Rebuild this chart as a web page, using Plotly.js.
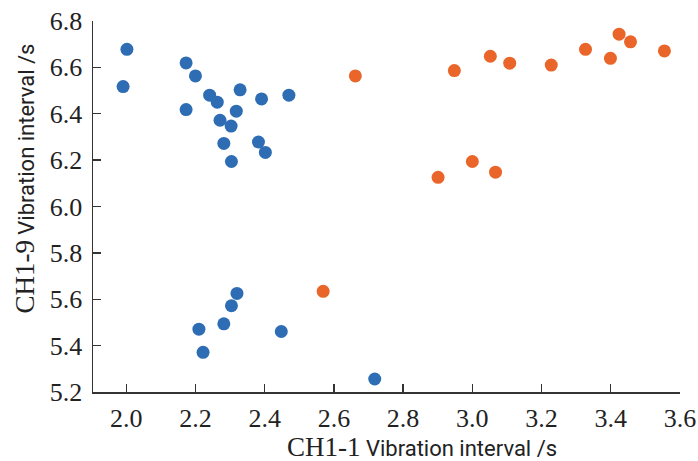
<!DOCTYPE html>
<html>
<head>
<meta charset="utf-8">
<script src="https://cdn.plot.ly/plotly-3.0.1.min.js"></script>
<style>html,body{margin:0;padding:0;background:#fff;}#chart{width:698px;height:461px;}</style>
</head>
<body>
<div id="chart"></div>
<script>
// Group 1 (blue)
const blueX = [2.002, 1.991, 2.173, 2.200, 2.173, 2.241, 2.263, 2.329, 2.318, 2.271, 2.303, 2.391, 2.470, 2.282, 2.382, 2.402, 2.304, 2.320, 2.304, 2.210, 2.282, 2.222, 2.448, 2.718];
const blueY = [6.678, 6.517, 6.619, 6.563, 6.418, 6.480, 6.450, 6.503, 6.411, 6.372, 6.347, 6.464, 6.480, 6.272, 6.278, 6.233, 6.194, 5.625, 5.572, 5.471, 5.494, 5.371, 5.461, 5.256];
// Group 2 (orange)
const orangeX = [2.662, 2.569, 2.948, 3.052, 3.108, 3.228, 3.327, 3.399, 3.424, 3.457, 3.555, 2.901, 3.000, 3.067];
const orangeY = [6.563, 5.634, 6.586, 6.648, 6.618, 6.610, 6.678, 6.639, 6.743, 6.710, 6.671, 6.126, 6.194, 6.148];

const xTickVals = [2.0, 2.2, 2.4, 2.6, 2.8, 3.0, 3.2, 3.4, 3.6];
const yTickVals = [5.2, 5.4, 5.6, 5.8, 6.0, 6.2, 6.4, 6.6, 6.8];
const xTickText = ['2.0', '2.2', '2.4', '2.6', '2.8', '3.0', '3.2', '3.4', '3.6'];
const yTickText = ['5.2', '5.4', '5.6', '5.8', '6.0', '6.2', '6.4', '6.6', '6.8'];

const xTitleHead = 'CH1-1';
const yTitleHead = 'CH1-9';
const titleTail = 'Vibration interval /s';

const serif = '"Liberation Serif", "Times New Roman", serif';
const sans = 'Roboto, "Noto Sans", sans-serif';

const traces = [
  {x: blueX, y: blueY, type: 'scatter', mode: 'markers', name: 'Group 1',
   marker: {color: '#2E6DB4', size: 13}},
  {x: orangeX, y: orangeY, type: 'scatter', mode: 'markers', name: 'Group 2',
   marker: {color: '#EA652A', size: 13}}
];

const axisCommon = {
  showline: true, linecolor: '#333', linewidth: 1.5, mirror: false,
  showgrid: false, zeroline: false,
  ticks: 'inside', ticklen: 8, tickwidth: 1.3, tickcolor: '#333',
  tickfont: {family: serif, size: 26, color: '#222'},
  tickmode: 'array'
};

const layout = {
  width: 698, height: 461,
  margin: {l: 93, r: 18, t: 21, b: 69},
  paper_bgcolor: '#fff', plot_bgcolor: '#fff',
  showlegend: false,
  xaxis: Object.assign({}, axisCommon, {
    range: [1.904, 3.6], tickvals: xTickVals, ticktext: xTickText,
    ticklabelstandoff: 2
  }),
  yaxis: Object.assign({}, axisCommon, {
    range: [5.2, 6.8], tickvals: yTickVals, ticktext: yTickText,
    ticklabelstandoff: 4
  }),
  annotations: [
    {xref: 'paper', yref: 'paper', x: 0.561, y: -0.149, xanchor: 'center', yanchor: 'middle',
     showarrow: false,
     text: '<span style="font-family:' + serif.replace(/"/g, "'") + ';font-size:27px">' + xTitleHead + '</span> ' +
           '<span style="font-family:Roboto;font-size:22px">' + titleTail + '</span>',
     font: {color: '#222', family: sans, size: 22}},
    {xref: 'paper', yref: 'paper', x: -0.1153, y: 0.576, xanchor: 'center', yanchor: 'middle',
     showarrow: false, textangle: -90,
     text: '<span style="font-family:' + serif.replace(/"/g, "'") + ';font-size:27px">' + yTitleHead + '</span> ' +
           '<span style="font-family:Roboto;font-size:22px">' + titleTail + '</span>',
     font: {color: '#222', family: sans, size: 22}}
  ]
};

Plotly.newPlot('chart', traces, layout, {displayModeBar: false, staticPlot: true});
</script>
</body>
</html>
